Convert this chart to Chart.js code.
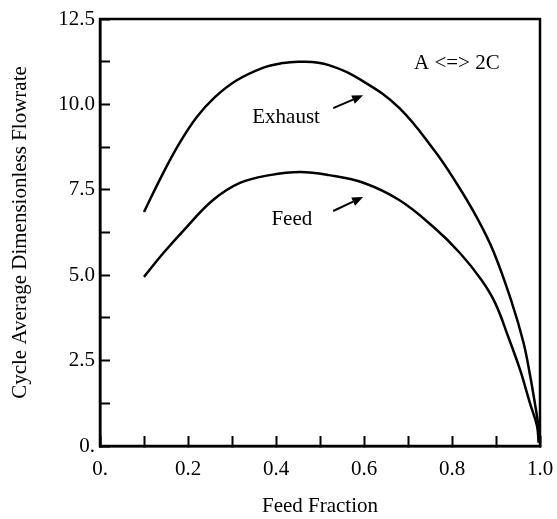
<!DOCTYPE html>
<html>
<head>
<meta charset="utf-8">
<script src="https://cdn.jsdelivr.net/npm/chart.js@4/dist/chart.umd.min.js"></script>
<style>
  html, body { margin: 0; padding: 0; background: #fff; }
  #wrap { width: 557px; height: 519px; }
</style>
</head>
<body>
<div id="wrap"><canvas id="chart" width="557" height="519"></canvas></div>
<script>
// Curvas (fracción de alimentación vs caudal adimensional)
const exhaustX = [0.1, 0.14, 0.18, 0.22, 0.26, 0.31, 0.37, 0.41, 0.455, 0.52, 0.6, 0.68, 0.76, 0.81, 0.856, 0.894, 0.936, 0.962, 0.977, 0.989, 0.996, 0.998];
const exhaustY = [6.85, 7.9, 8.85, 9.63, 10.2, 10.7, 11.07, 11.2, 11.25, 11.15, 10.66, 9.9, 8.65, 7.7, 6.7, 5.7, 4.2, 3.05, 2.1, 1.2, 0.6, 0.1];
const feedX = [0.1, 0.144, 0.197, 0.257, 0.318, 0.386, 0.455, 0.52, 0.6, 0.68, 0.758, 0.818, 0.867, 0.898, 0.928, 0.955, 0.977, 0.993, 0.997];
const feedY = [4.95, 5.65, 6.41, 7.2, 7.7, 7.93, 8.02, 7.93, 7.7, 7.2, 6.41, 5.65, 4.86, 4.19, 3.19, 2.22, 1.26, 0.6, 0.1];

const xTickLabels = { 0: '0.', 2: '0.2', 4: '0.4', 6: '0.6', 8: '0.8', 10: '1.0' };
const yTickLabels = { 0: '0.', 2: '2.5', 4: '5.0', 6: '7.5', 8: '10.0', 10: '12.5' };

// Etiquetas dentro del gráfico (coordenadas de datos)
const notes = [
  { text: 'Exhaust', x: 0.423, y: 9.63 },
  { text: 'Feed', x: 0.436, y: 6.62 },
  { text: 'A <=> 2C', x: 0.811, y: 11.21 },
];
const arrows = [
  { from: [0.53, 9.89], to: [0.598, 10.27] },
  { from: [0.53, 6.88], to: [0.598, 7.29] },
];

const FONT = "'Liberation Serif', 'Times New Roman', serif";
Chart.defaults.font.family = FONT;
Chart.defaults.color = '#000';

const pairs = (xs, ys) => xs.map((x, i) => ({ x, y: ys[i] }));

const framePlugin = {
  id: 'frame',
  afterDraw(chart) {
    const { ctx, chartArea: a, scales } = chart;
    ctx.save();
    ctx.strokeStyle = '#000';
    ctx.lineWidth = 2.5;
    ctx.strokeRect(a.left, a.top, a.right - a.left, a.bottom - a.top);

    ctx.fillStyle = '#000';
    ctx.font = '21px ' + FONT;
    ctx.textAlign = 'center';
    ctx.textBaseline = 'middle';
    notes.forEach(n => {
      ctx.fillText(n.text, scales.x.getPixelForValue(n.x), scales.y.getPixelForValue(n.y));
    });

    ctx.lineWidth = 2;
    arrows.forEach(ar => {
      const x1 = scales.x.getPixelForValue(ar.from[0]), y1 = scales.y.getPixelForValue(ar.from[1]);
      const x2 = scales.x.getPixelForValue(ar.to[0]), y2 = scales.y.getPixelForValue(ar.to[1]);
      const ang = Math.atan2(y2 - y1, x2 - x1);
      const hl = 11, hw = 4.5;
      const bx = x2 - hl * Math.cos(ang), by = y2 - hl * Math.sin(ang);
      ctx.beginPath();
      ctx.moveTo(x1, y1);
      ctx.lineTo(bx, by);
      ctx.stroke();
      ctx.beginPath();
      ctx.moveTo(x2, y2);
      ctx.lineTo(bx + hw * Math.sin(ang), by - hw * Math.cos(ang));
      ctx.lineTo(bx - hw * Math.sin(ang), by + hw * Math.cos(ang));
      ctx.closePath();
      ctx.fill();
    });
    ctx.restore();
  },
};

new Chart(document.getElementById('chart'), {
  type: 'line',
  data: {
    datasets: [
      {
        label: 'Exhaust', data: pairs(exhaustX, exhaustY),
        borderColor: '#000', borderWidth: 2.5, pointRadius: 0,
        tension: 0.4, fill: false,
      },
      {
        label: 'Feed', data: pairs(feedX, feedY),
        borderColor: '#000', borderWidth: 2.5, pointRadius: 0,
        tension: 0.4, fill: false,
      },
    ],
  },
  options: {
    responsive: false, animation: false,
    layout: { padding: { top: 19, right: 17, bottom: 0, left: 0 } },
    plugins: { legend: { display: false }, tooltip: { enabled: false } },
    scales: {
      x: {
        type: 'linear', min: 0, max: 1,
        afterFit: s => { s.height = 73; s.paddingLeft = 0; s.paddingRight = 0; },
        border: { display: true, color: '#000', width: 2.5 },
        grid: { drawOnChartArea: false, drawTicks: true, tickLength: -10, tickWidth: 2, tickColor: '#000' },
        ticks: {
          stepSize: 0.1, padding: 21, maxRotation: 0, autoSkip: false,
          font: { size: 21 },
          callback: v => { const k = Math.round(v * 10); return k % 2 === 0 ? xTickLabels[k] : ''; },
        },
        title: { display: true, text: 'Feed Fraction', font: { size: 21 }, padding: { top: 0, bottom: 0 } },
      },
      y: {
        type: 'linear', min: 0, max: 12.5,
        afterFit: s => { s.width = 100; s.paddingTop = 0; s.paddingBottom = 0; },
        border: { display: true, color: '#000', width: 2.5 },
        grid: { drawOnChartArea: false, drawTicks: true, tickLength: -10, tickWidth: 2, tickColor: '#000' },
        ticks: {
          stepSize: 1.25, padding: 15, autoSkip: false,
          font: { size: 21 },
          callback: v => { const k = Math.round(v / 1.25); return k % 2 === 0 ? yTickLabels[k] : ''; },
        },
        title: { display: true, text: 'Cycle Average Dimensionless Flowrate', font: { size: 21 }, padding: { top: 8, bottom: 0 } },
      },
    },
  },
  plugins: [framePlugin],
});
</script>
</body>
</html>
